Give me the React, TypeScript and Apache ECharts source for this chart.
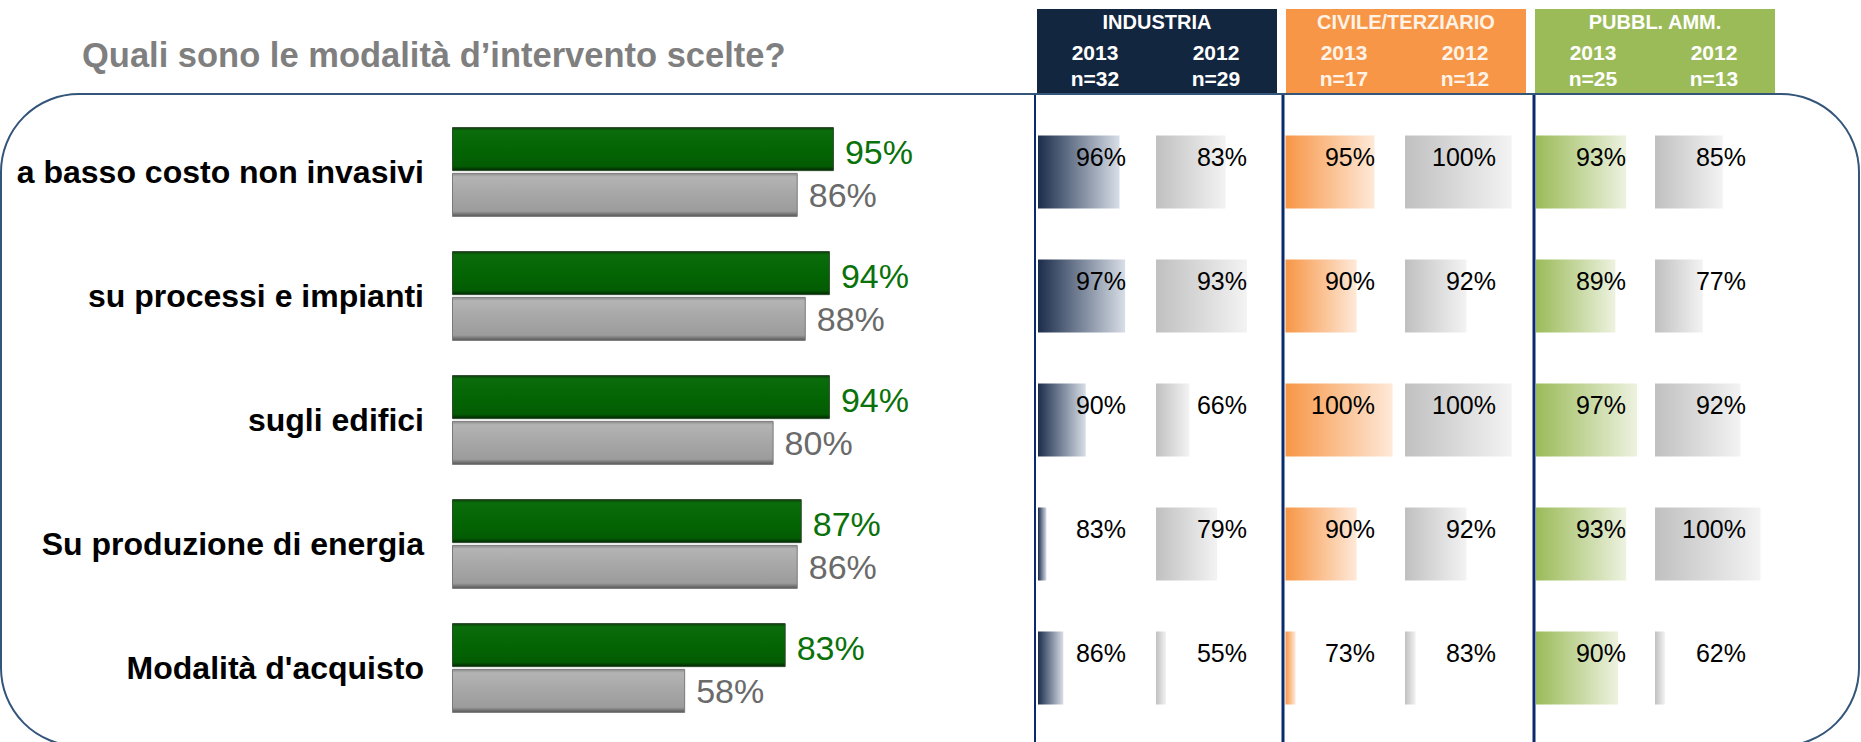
import React, { useEffect, useRef } from "react";
import * as echarts from "echarts";

const categories = [
  "a basso costo non invasivi",
  "su processi e impianti",
  "sugli edifici",
  "Su produzione di energia",
  "Modalità d'acquisto",
];
const total2013 = [95, 94, 94, 87, 83];
const total2012 = [86, 88, 80, 86, 58];

const industria2013 = [96, 97, 90, 83, 86];
const industria2012 = [83, 93, 66, 79, 55];
const civile2013 = [95, 90, 100, 90, 73];
const civile2012 = [100, 92, 100, 92, 83];
const pa2013 = [93, 89, 97, 93, 90];
const pa2012 = [85, 77, 92, 100, 62];

const groupNames = ["INDUSTRIA", "CIVILE/TERZIARIO", "PUBBL. AMM."];
const years = ["2013", "2012"];
const sampleSizes = [
  [32, 29],
  [17, 12],
  [25, 13],
];

const title = "Quali sono le modalità d\u2019intervento scelte?";

// data-bar scale ranges for each small column
const colAxisMin = [81.5, 50.3, 70.2, 81.1, 59.7, 58];
const colAxisMax = [101.07, 101.94, 100.84, 100.6, 100.3, 101.8];

const FONT = "'Liberation Sans', Arial, sans-serif";

export default function App() {
  const ref = useRef<HTMLDivElement>(null);

  useEffect(() => {
    document.body.style.margin = "0";
    document.body.style.overflow = "hidden";
    const chart = echarts.init(ref.current!, null, { renderer: "svg" });

    const colValues = [industria2013, industria2012, civile2013, civile2012, pa2013, pa2012];
    const colLeft = [1038, 1156, 1285.5, 1405, 1536, 1655];
    const colLabelRight = [1126, 1247, 1375, 1496, 1626, 1746];
    const colGrad = [
      ["#1b2d4c", "#d8dee7"],
      ["#c0c0c0", "#f3f3f3"],
      ["#f79646", "#fee9d8"],
      ["#c0c0c0", "#f3f3f3"],
      ["#9bbb59", "#edf2e0"],
      ["#c0c0c0", "#f3f3f3"],
    ];
    const headerColors = ["#13263f", "#f79646", "#9bbb59"];
    const headerLeft = [1037, 1286, 1535];
    const headerW = 240;

    const grids: any[] = [{ left: 452, top: 110, width: 402, height: 620 }];
    const xAxes: any[] = [{ gridIndex: 0, type: "value", min: 0, max: 100, show: false }];
    const yAxes: any[] = [
      {
        gridIndex: 0,
        type: "category",
        data: categories,
        inverse: true,
        axisLine: { show: false },
        axisTick: { show: false },
        axisLabel: {
          margin: 28,
          fontSize: 32,
          fontWeight: "bold",
          color: "#000",
          fontFamily: FONT,
        },
      },
    ];

    const greenGrad = new echarts.graphic.LinearGradient(0, 0, 0, 1, [
      { offset: 0, color: "#0e3a0e" },
      { offset: 0.07, color: "#0a6c0a" },
      { offset: 0.5, color: "#036503" },
      { offset: 0.9, color: "#035c03" },
      { offset: 1, color: "#012601" },
    ]);
    const grayGrad = new echarts.graphic.LinearGradient(0, 0, 0, 1, [
      { offset: 0, color: "#8a8a8a" },
      { offset: 0.08, color: "#b4b4b4" },
      { offset: 0.5, color: "#a6a6a6" },
      { offset: 0.88, color: "#9c9c9c" },
      { offset: 1, color: "#555555" },
    ]);

    const series: any[] = [
      {
        type: "bar",
        name: "2013",
        xAxisIndex: 0,
        yAxisIndex: 0,
        data: total2013,
        barWidth: 44,
        barGap: "4%",
        itemStyle: { color: greenGrad, borderColor: "#2c4a2c", borderWidth: 1 },
        label: {
          show: true,
          position: "right",
          distance: 11,
          offset: [0, 3],
          formatter: "{c}%",
          fontSize: 34,
          color: "#0a720a",
          fontFamily: FONT,
        },
      },
      {
        type: "bar",
        name: "2012",
        xAxisIndex: 0,
        yAxisIndex: 0,
        data: total2012,
        barWidth: 44,
        barGap: "4%",
        itemStyle: { color: grayGrad, borderColor: "#7a7a7a", borderWidth: 1 },
        label: {
          show: true,
          position: "right",
          distance: 11,
          formatter: "{c}%",
          fontSize: 34,
          color: "#6a6a6a",
          fontFamily: FONT,
        },
      },
    ];

    let gi = 1;
    colValues.forEach((vals, i) => {
      // data-bar grid
      grids.push({ left: colLeft[i], top: 110, width: 110, height: 620 });
      xAxes.push({ gridIndex: gi, type: "value", min: colAxisMin[i], max: colAxisMax[i], show: false });
      yAxes.push({ gridIndex: gi, type: "category", data: categories, inverse: true, show: false });
      series.push({
        type: "bar",
        xAxisIndex: gi,
        yAxisIndex: gi,
        data: vals,
        barWidth: 73,
        clip: true,
        silent: true,
        itemStyle: {
          color: new echarts.graphic.LinearGradient(0, 0, 1, 0, [
            { offset: 0, color: colGrad[i][0] },
            { offset: 1, color: colGrad[i][1] },
          ]),
        },
      });
      gi++;
      // label grid (text right-aligned in the cell)
      grids.push({ left: colLeft[i], top: 110, width: colLabelRight[i] - colLeft[i], height: 620 });
      xAxes.push({ gridIndex: gi, type: "value", min: 0, max: 1, show: false });
      yAxes.push({ gridIndex: gi, type: "category", data: categories, inverse: true, show: false });
      series.push({
        type: "bar",
        xAxisIndex: gi,
        yAxisIndex: gi,
        data: vals.map(() => 1),
        barWidth: 73,
        silent: true,
        z: 3,
        itemStyle: { color: "rgba(0,0,0,0)" },
        label: {
          show: true,
          position: "insideRight",
          distance: 0,
          offset: [0, -15],
          formatter: (p: any) => vals[p.dataIndex] + "%",
          fontSize: 25,
          color: "#000",
          fontFamily: FONT,
        },
      });
      gi++;
    });

    const graphics: any[] = [
      {
        type: "rect",
        z: -10,
        shape: { x: 1, y: 94, width: 1858, height: 652, r: 78 },
        style: { fill: "none", stroke: "#34557a", lineWidth: 2 },
      },
      {
        type: "text",
        left: 82,
        top: 37,
        style: {
          text: title,
          fontSize: 34.5,
          fontWeight: "bold",
          fill: "#7f7f7f",
          fontFamily: FONT,
        },
      },
    ];
    [1035, 1283, 1534].forEach((x, i) => {
      graphics.push({
        type: "line",
        z: 5,
        shape: { x1: x, y1: 95, x2: x, y2: 742 },
        style: { stroke: "#0b2a6e", lineWidth: i === 0 ? 2 : 3 },
      });
    });
    groupNames.forEach((g, i) => {
      const x0 = headerLeft[i];
      const txt = i === 1 ? "#fff3e8" : "#ffffff";
      graphics.push({
        type: "rect",
        z: 10,
        shape: { x: x0, y: 9, width: headerW, height: 84 },
        style: { fill: headerColors[i] },
      });
      graphics.push({
        type: "text",
        z: 11,
        x: x0 + headerW / 2,
        y: 22,
        style: {
          text: g,
          fontSize: 20,
          fontWeight: "bold",
          fill: txt,
          align: "center",
          verticalAlign: "middle",
          fontFamily: FONT,
        },
      });
      years.forEach((yr, j) => {
        const cx = x0 + (j === 0 ? 58 : 179);
        graphics.push({
          type: "text",
          z: 11,
          x: cx,
          y: 52,
          style: {
            text: yr,
            fontSize: 21,
            fontWeight: "bold",
            fill: txt,
            align: "center",
            verticalAlign: "middle",
            fontFamily: FONT,
          },
        });
        graphics.push({
          type: "text",
          z: 11,
          x: cx,
          y: 78,
          style: {
            text: "n=" + sampleSizes[i][j],
            fontSize: 21,
            fontWeight: "bold",
            fill: txt,
            align: "center",
            verticalAlign: "middle",
            fontFamily: FONT,
          },
        });
      });
    });

    chart.setOption({
      animation: false,
      backgroundColor: "#ffffff",
      grid: grids,
      xAxis: xAxes,
      yAxis: yAxes,
      series,
      graphic: graphics,
    });

    return () => chart.dispose();
  }, []);

  return <div ref={ref} style={{ width: 1861, height: 742 }} />;
}
